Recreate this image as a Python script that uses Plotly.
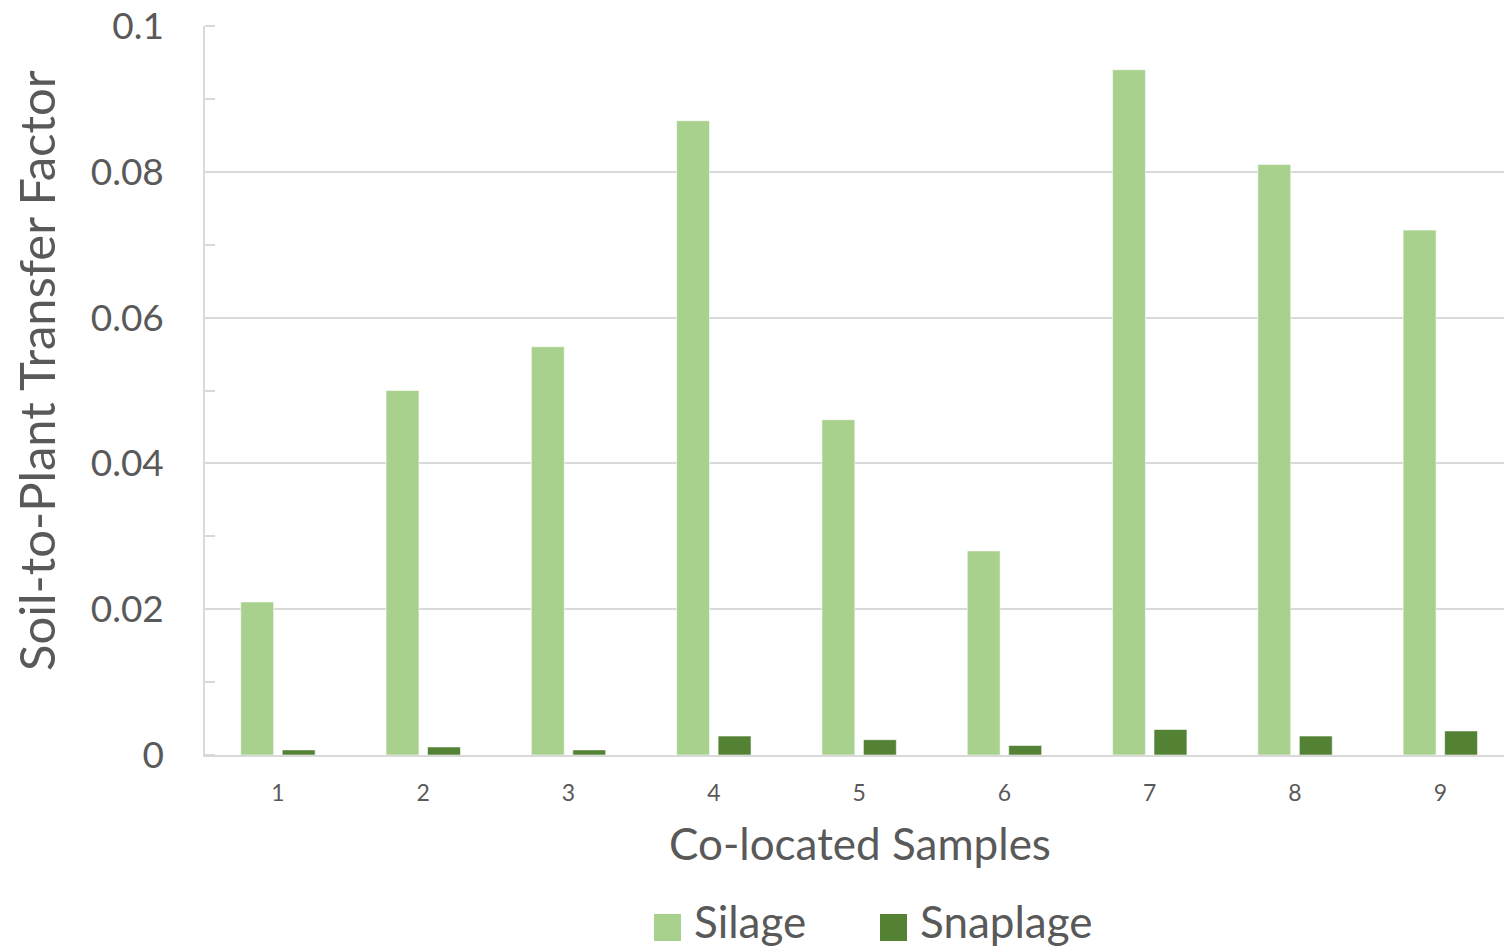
import plotly.graph_objects as go

# Co-located sample numbers and soil-to-plant transfer factors per crop type
samples = [1, 2, 3, 4, 5, 6, 7, 8, 9]
silage = [0.021, 0.050, 0.056, 0.087, 0.046, 0.028, 0.094, 0.081, 0.072]
snaplage = [0.0007, 0.0011, 0.0007, 0.0026, 0.0021, 0.0013, 0.0035, 0.0026, 0.0033]
series_names = ["Silage", "Snaplage"]
series_colors = ["#A9D18E", "#548235"]
y_ticks = [0, 0.02, 0.04, 0.06, 0.08, 0.1]
y_tick_text = ["0", "0.02", "0.04", "0.06", "0.08", "0.1"]

W, H = 1504, 950
L, T, R, B = 205, 26, 0, 195
PW, PH = W - L - R, H - T - B
FONT = "Lato"
GREY = "#595959"
AXIS_GREY = "#D9D9D9"
CAT_PX = 145.3  # pixel width of one sample slot


def px(x):
    return (x - L) / PW


def py(y):
    return (H - B - y) / PH


fig = go.Figure()
for name, vals, col in zip(series_names, [silage, snaplage], series_colors):
    fig.add_trace(go.Bar(
        x=samples, y=vals, name=name,
        marker=dict(color=col, line=dict(color="rgba(255,255,255,0.55)", width=1)),
        showlegend=False,
    ))

fig.update_layout(
    width=W, height=H,
    margin=dict(l=L, r=R, t=T, b=B),
    paper_bgcolor="white", plot_bgcolor="white",
    barmode="group", bargap=0.429, bargroupgap=0.207,
    font=dict(family=FONT, color=GREY),
    xaxis=dict(
        range=[0.498, 0.498 + PW / CAT_PX],
        tickvals=samples, ticktext=[str(s) for s in samples],
        tickfont=dict(size=23, color=GREY),
        ticks="", showgrid=False, zeroline=False,
        showline=True, linecolor=AXIS_GREY, linewidth=2,
        ticklabelstandoff=16,
    ),
    yaxis=dict(
        range=[0, 0.1],
        tickvals=y_ticks, ticktext=y_tick_text,
        tickfont=dict(size=37, color=GREY),
        ticks="", showgrid=True, gridcolor=AXIS_GREY, gridwidth=1.5,
        zeroline=False, showline=True, linecolor=AXIS_GREY, linewidth=1.5,
        ticklabelstandoff=32,
        minor=dict(dtick=0.01, ticks="inside", ticklen=10,
                   tickcolor=AXIS_GREY, tickwidth=1.5, showgrid=False),
    ),
)

annotations = [
    dict(text="Soil-to-Plant Transfer Factor", x=px(36), y=py(371),
         textangle=-90, font=dict(size=49, color=GREY)),
    dict(text="Co-located Samples", x=px(860), y=py(843),
         font=dict(size=44, color=GREY)),
]
# Legend: coloured squares followed by the series names
legend_items = [(654, 692), (880, 918)]
for (sx, tx), name, col in zip(legend_items, series_names, series_colors):
    fig.add_shape(type="rect", xref="paper", yref="paper",
                  x0=px(sx), x1=px(sx + 27), y0=py(941), y1=py(914),
                  fillcolor=col, line=dict(width=0))
    annotations.append(dict(text=name, x=px(tx), y=py(949), xanchor="left",
                            yanchor="bottom", font=dict(size=44, color=GREY)))
for a in annotations:
    a.update(xref="paper", yref="paper", showarrow=False,
             xanchor=a.get("xanchor", "center"), yanchor=a.get("yanchor", "middle"))
fig.update_layout(annotations=annotations)

fig.write_html("out.html")
